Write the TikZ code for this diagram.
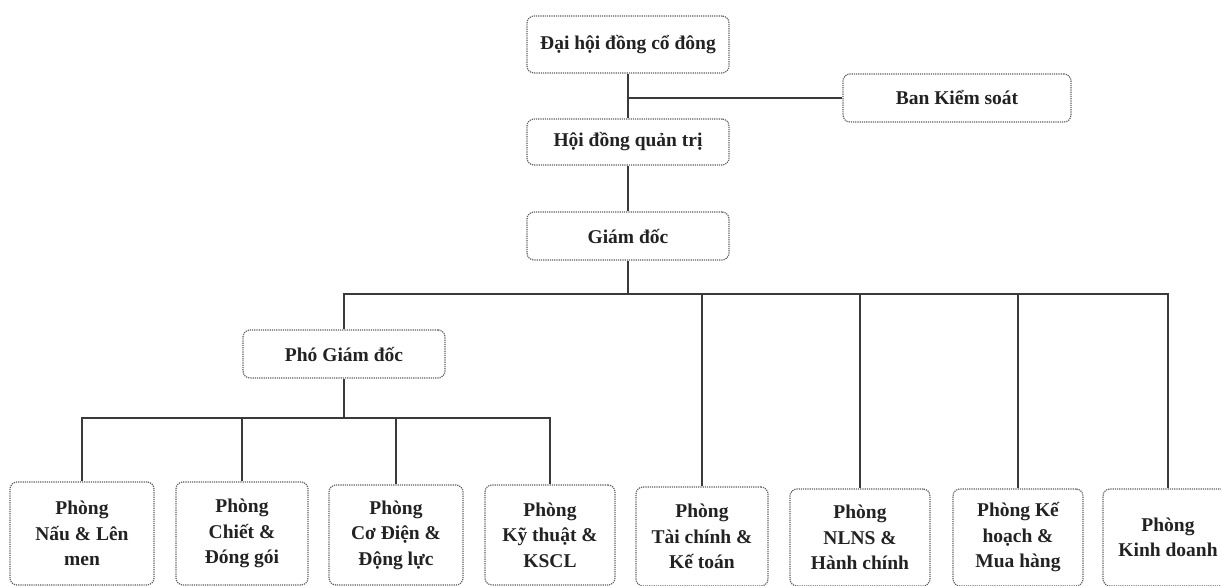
\documentclass[tikz,border=0pt]{standalone}
\usepackage{fontspec}
\setmainfont{Liberation Serif}
\definecolor{linec}{HTML}{3A3A3A}
\definecolor{boxc}{HTML}{5E5E5E}
\definecolor{txtc}{HTML}{222222}
\tikzset{
  orgbox/.style={draw=boxc, densely dotted, line width=1.2pt, rounded corners=7pt,
    align=center, inner sep=0pt, text=txtc,
    font=\fontsize{19.5}{25.5}\selectfont\bfseries},
  conn/.style={draw=linec, line width=1.5pt}
}
\begin{document}
\begin{tikzpicture}[x=1pt,y=-1pt]
\useasboundingbox (0,0) rectangle (1221,586);
% top level
\node[orgbox, minimum width=202pt, minimum height=57pt] (dh) at (628,44.5) {Đại hội đồng cổ đông};
\node[orgbox, minimum width=228pt, minimum height=48pt] (bks) at (957,98) {Ban Kiểm soát};
\node[orgbox, minimum width=202pt, minimum height=46pt] (hdqt) at (628,142) {Hội đồng quản trị};
\node[orgbox, minimum width=202pt, minimum height=48pt] (gd) at (628,236) {Giám đốc};
\node[orgbox, minimum width=202pt, minimum height=48pt] (pgd) at (344,354) {Phó Giám đốc};
% bottom level
\node[orgbox, minimum width=144pt, minimum height=103pt] (b1) at (82,533.5) {Phòng\\Nấu \& Lên\\men};
\node[orgbox, minimum width=132pt, minimum height=103pt] (b2) at (242,533.5) {Phòng\\Chiết \&\\Đóng gói};
\node[orgbox, minimum width=134pt, minimum height=100pt] (b3) at (396,535) {Phòng\\Cơ Điện \&\\Động lực};
\node[orgbox, minimum width=130pt, minimum height=100pt] (b4) at (550,535) {Phòng\\Kỹ thuật \&\\KSCL};
\node[orgbox, minimum width=132pt, minimum height=99pt] (b5) at (702,536.5) {Phòng\\Tài chính \&\\Kế toán};
\node[orgbox, minimum width=140pt, minimum height=97pt] (b6) at (860,537.5) {Phòng\\NLNS \&\\Hành chính};
\node[orgbox, minimum width=130pt, minimum height=97pt] (b7) at (1018,537.5) {Phòng Kế\\hoạch \&\\Mua hàng};
\node[orgbox, minimum width=130pt, minimum height=97pt] (b8) at (1168,537.5) {Phòng\\Kinh doanh};
% bus coordinates
\coordinate (busA) at (0,294);
\coordinate (busB) at (0,418);
% connectors
\draw[conn] (dh.south) -- (hdqt.north);
\draw[conn] (bks.west) -- (bks.west -| dh.south);
\draw[conn] (hdqt.south) -- (gd.north);
\draw[conn] (gd.south) -- (gd.south |- busA);
\draw[conn] (pgd.north) |- (b8.north |- busA) -- (b8.north);
\draw[conn] (b5.north |- busA) -- (b5.north);
\draw[conn] (b6.north |- busA) -- (b6.north);
\draw[conn] (b7.north |- busA) -- (b7.north);
\draw[conn] (pgd.south) -- (pgd.south |- busB);
\draw[conn] (b1.north) |- (b4.north |- busB) -- (b4.north);
\draw[conn] (b2.north |- busB) -- (b2.north);
\draw[conn] (b3.north |- busB) -- (b3.north);
\end{tikzpicture}
\end{document}
